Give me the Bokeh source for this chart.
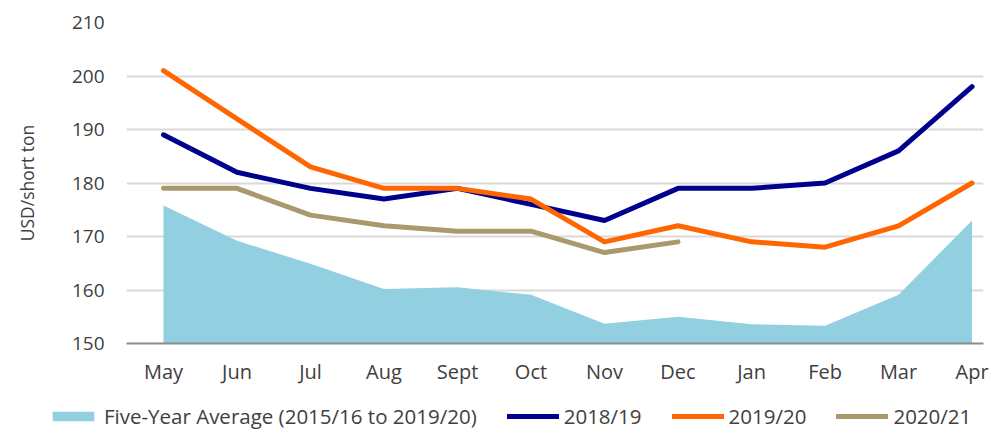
from bokeh.plotting import figure
from bokeh.models import Legend, LegendItem, FixedTicker, Range1d
from bokeh.layouts import column, row
from bokeh.embed import file_html
from bokeh.resources import INLINE

months = ["May", "Jun", "Jul", "Aug", "Sept", "Oct", "Nov", "Dec", "Jan", "Feb", "Mar", "Apr"]
five_year_avg = [175.8, 169.2, 164.9, 160.2, 160.5, 159.1, 153.7, 155.0, 153.6, 153.3, 159.1, 173.0]
s_2018_19 = [189, 182, 179, 177, 179, 176, 173, 179, 179, 180, 186, 198]
s_2019_20 = [201, 192, 183, 179, 179, 177, 169, 172, 169, 168, 172, 180]
s_2020_21 = [179, 179, 174, 172, 171, 171, 167, 169]
y_ticks = [150, 160, 170, 180, 190, 200, 210]
series_labels = ["Five-Year Average (2015/16 to 2019/20)", "2018/19", "2019/20", "2020/21"]

FONT = "Open Sans"
TXT = "#404040"
C_AVG, C1, C2, C3 = "#92CFE1", "#00008C", "#FF6600", "#A99A6E"

xs = list(range(len(months)))


def draw_series(fig):
    r0 = fig.varea(x=xs, y1=[150] * len(xs), y2=five_year_avg, fill_color=C_AVG)
    r1 = fig.line(xs, s_2018_19, line_color=C1, line_width=5, line_cap="round", line_join="round")
    r2 = fig.line(xs, s_2019_20, line_color=C2, line_width=5, line_cap="round", line_join="round")
    r3 = fig.line(xs[:len(s_2020_21)], s_2020_21, line_color=C3, line_width=5, line_cap="round", line_join="round")
    return [r0, r1, r2, r3]


p = figure(width=989, height=395, output_backend="svg", toolbar_location=None,
           min_border_left=126, min_border_right=6, min_border_top=22, min_border_bottom=52,
           x_range=Range1d(-0.503, 11.156), y_range=Range1d(150, 210))
p.outline_line_color = None
draw_series(p)

# axes
p.xaxis.ticker = FixedTicker(ticks=xs)
p.xaxis.major_label_overrides = {i: m for i, m in enumerate(months)}
p.xaxis.major_tick_line_color = None
p.xaxis.minor_tick_line_color = None
p.xaxis.axis_line_color = "#8C8C8C"
p.xaxis.axis_line_width = 2
p.xaxis.major_label_standoff = 8
p.xaxis.major_label_text_font = FONT
p.xaxis.major_label_text_font_size = "20px"
p.xaxis.major_label_text_color = TXT

p.yaxis.ticker = FixedTicker(ticks=y_ticks)
p.yaxis.major_tick_line_color = None
p.yaxis.minor_tick_line_color = None
p.yaxis.axis_line_color = None
p.yaxis.major_label_standoff = 16
p.yaxis.major_label_text_font = FONT
p.yaxis.major_label_text_font_size = "19px"
p.yaxis.major_label_text_color = TXT
p.yaxis.axis_label = "USD/short ton"
p.yaxis.axis_label_text_font = FONT
p.yaxis.axis_label_text_font_size = "17.5px"
p.yaxis.axis_label_text_font_style = "normal"
p.yaxis.axis_label_text_color = TXT
p.yaxis.axis_label_standoff = 30

p.xgrid.grid_line_color = None
p.ygrid.grid_line_color = "#D9D9D9"
p.ygrid.grid_line_width = 2

# legend strip below the chart (same series, drawn outside its visible y range)
pl = figure(width=989, height=35, output_backend="svg", toolbar_location=None,
            min_border=0, x_range=Range1d(-0.5, 11.5), y_range=Range1d(0, 1))
pl.outline_line_color = None
pl.axis.visible = False
pl.grid.visible = False
proxies = draw_series(pl)

legend = Legend(items=[LegendItem(label=lab, renderers=[g]) for lab, g in zip(series_labels, proxies)],
                orientation="horizontal", location=(47, 0))
legend.padding = 0
legend.margin = 0
legend.spacing = 30
legend.border_line_color = None
legend.background_fill_alpha = 0
legend.glyph_width = 52
legend.glyph_height = 12
legend.label_standoff = 5
legend.label_text_font = FONT
legend.label_text_font_size = "20.5px"
legend.label_text_color = TXT
legend.label_height = 20
pl.add_layout(legend, "center")

layout = column(p, row(pl), spacing=0)
open("out.html", "w").write(file_html(layout, INLINE))
